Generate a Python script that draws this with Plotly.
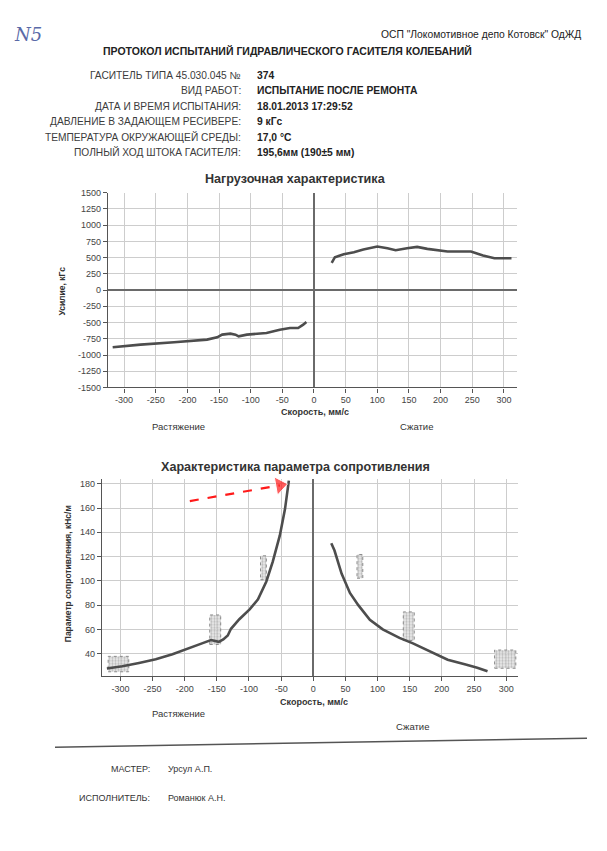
import plotly.graph_objects as go

W, H = 607, 851


def px(x):
    return x / W


def py(y):
    return 1 - y / H


# ---------------- data ----------------
# Load characteristic (force, kgf vs speed, mm/s)
load_ext_v = [-318, -274, -221, -195, -169, -153, -145, -132, -124, -119, -106, -75, -54, -38, -25, -17, -12]
load_ext_f = [-881, -840, -804, -789, -763, -727, -686, -671, -686, -712, -686, -660, -610, -584, -584, -533, -492]
load_cmp_v = [28, 33, 47, 63, 78, 100, 116, 129, 147, 163, 179, 211, 248, 267, 285, 312]
load_cmp_f = [420, 507, 553, 584, 625, 671, 645, 615, 645, 666, 635, 594, 594, 533, 492, 492]

# Resistance parameter (kN*s/m vs speed, mm/s)
res_ext_v = [-321, -297, -271, -245, -219, -193, -172, -159, -152, -147, -140, -133, -128, -115, -99, -86, -73, -63, -52, -44, -38]
res_ext_k = [27.8, 29.7, 32.4, 35.4, 39.5, 44.9, 48.7, 51.2, 50.5, 49.8, 51.8, 55.0, 60.5, 68.4, 76.5, 84.7, 99.5, 115.8, 137.4, 159.1, 182.5]
res_cmp_v = [28, 33, 44, 57, 70, 88, 108, 134, 155, 186, 209, 237, 255, 271]
res_cmp_k = [131, 125, 106, 90, 80, 68, 60, 53, 48.5, 41, 35, 31, 28.5, 25.5]

# Tolerance boxes (speed range, parameter range)
box_v0 = [-319, -161, -82, 68, 140, 282]
box_v1 = [-287, -144, -73, 77, 157, 315]
box_k0 = [25.1, 47.6, 100.9, 102.2, 50.8, 28.0]
box_k1 = [37.8, 71.9, 120.6, 121.7, 74.4, 43.0]

# Red marker arrow (speed, parameter)
arrow_v = [-192, -52]
arrow_k = [165.7, 178.7]

x_ticks = [-300, -250, -200, -150, -100, -50, 0, 50, 100, 150, 200, 250, 300]
load_ticks = [-1500, -1250, -1000, -750, -500, -250, 0, 250, 500, 750, 1000, 1250, 1500]
res_ticks = [40, 60, 80, 100, 120, 140, 160, 180]

header_labels = [
    "ГАСИТЕЛЬ ТИПА 45.030.045 №",
    "ВИД РАБОТ:",
    "ДАТА И ВРЕМЯ ИСПЫТАНИЯ:",
    "ДАВЛЕНИЕ В ЗАДАЮЩЕМ РЕСИВЕРЕ:",
    "ТЕМПЕРАТУРА ОКРУЖАЮЩЕЙ СРЕДЫ:",
    "ПОЛНЫЙ ХОД ШТОКА ГАСИТЕЛЯ:",
]
header_values = [
    "374",
    "ИСПЫТАНИЕ ПОСЛЕ РЕМОНТА",
    "18.01.2013 17:29:52",
    "9 кГс",
    "17,0 °C",
    "195,6мм (190±5 мм)",
]

# ---------------- figure ----------------
LINE = "#4d4d4d"
GRID = "#cdcdcd"
FONT = "Liberation Sans"

fig = go.Figure()

fig.add_trace(go.Scatter(x=load_ext_v, y=load_ext_f, mode="lines",
                         line=dict(color=LINE, width=2.6), xaxis="x", yaxis="y"))
fig.add_trace(go.Scatter(x=load_cmp_v, y=load_cmp_f, mode="lines",
                         line=dict(color=LINE, width=2.6), xaxis="x", yaxis="y"))

# tolerance boxes
bx, by = [], []
for a, b, c, d in zip(box_v0, box_v1, box_k0, box_k1):
    bx += [a, b, b, a, a, None]
    by += [c, c, d, d, c, None]
fig.add_trace(go.Scatter(x=bx, y=by, mode="lines", fill="toself",
                         fillcolor="rgba(225,225,225,0.7)",
                         fillpattern=dict(shape=".", fgcolor="#8a8a8a", bgcolor="rgba(228,228,228,0.7)",
                                          size=3, solidity=0.45),
                         line=dict(color="#8a8a8a", width=1, dash="dot"),
                         xaxis="x2", yaxis="y2"))

fig.add_trace(go.Scatter(x=res_ext_v, y=res_ext_k, mode="lines",
                         line=dict(color=LINE, width=2.6), xaxis="x2", yaxis="y2", cliponaxis=False))
fig.add_trace(go.Scatter(x=res_cmp_v, y=res_cmp_k, mode="lines",
                         line=dict(color=LINE, width=2.6), xaxis="x2", yaxis="y2"))

fig.add_trace(go.Scatter(x=arrow_v, y=arrow_k, mode="lines+markers",
                         line=dict(color="#ff1a1a", width=2.2, dash="dash"),
                         marker=dict(symbol=["circle", "triangle-up"], size=[0, 16],
                                     color="#ff1a1a", angleref="previous"),
                         xaxis="x2", yaxis="y2", cliponaxis=False))

axis_common = dict(showgrid=True, gridcolor=GRID, gridwidth=1,
                   showline=True, linecolor="#555", linewidth=1.2,
                   ticks="outside", ticklen=4, tickcolor="#555",
                   tickfont=dict(family=FONT, size=9, color="#444"),
                   zeroline=True, zerolinecolor="#6a6a6a", zerolinewidth=1.5)


def labels(vals):
    return [str(v) for v in vals]


fig.update_layout(
    width=W, height=851,
    margin=dict(l=0, r=0, t=0, b=0),
    paper_bgcolor="white", plot_bgcolor="white",
    showlegend=False,
    xaxis=dict(domain=[px(108), px(517)], range=[-325.4, 320.7], tickvals=x_ticks,
               ticktext=labels(x_ticks), anchor="y", **axis_common),
    yaxis=dict(domain=[py(387), py(190)], range=[-1500, 1500], tickvals=load_ticks,
               ticktext=labels(load_ticks), anchor="x", **axis_common),
    xaxis2=dict(domain=[px(102), px(518)], range=[-328.6, 318.4], tickvals=x_ticks,
                ticktext=labels(x_ticks), anchor="y2", **axis_common),
    yaxis2=dict(domain=[py(679), py(480)], range=[21.6, 183.6], tickvals=res_ticks,
                ticktext=labels(res_ticks), anchor="x2", **axis_common),
)

ann = []


def txt(x, y, s, size, anchor="left", bold=False, color="#222", angle=0, family=FONT, italic=False):
    t = f"<b>{s}</b>" if bold else s
    if italic:
        t = f"<i>{t}</i>"
    ann.append(dict(x=px(x), y=py(y), xref="paper", yref="paper", text=t, showarrow=False,
                    xanchor=anchor, yanchor="middle", textangle=angle,
                    font=dict(family=family, size=size, color=color)))


txt(12, 30, "N5", 18, italic=True, color="#5a6aa8", family="DejaVu Serif")
txt(583, 30, "ОСП \"Локомотивное депо Котовск\" ОдЖД", 10.3, anchor="right")
txt(287, 47, "ПРОТОКОЛ ИСПЫТАНИЙ ГИДРАВЛИЧЕСКОГО ГАСИТЕЛЯ КОЛЕБАНИЙ", 10.5, anchor="center", bold=True)
row_y = [71, 87, 103, 118, 134, 149]
for yy, lab, val in zip(row_y, header_labels, header_values):
    txt(243, yy, lab, 10.2, anchor="right", color="#3c3c3c")
    txt(255, yy, val, 10.3, anchor="left", bold=True)

txt(295, 176, "Нагрузочная характеристика", 12.6, anchor="center", bold=True, color="#333")
txt(62, 290, "Усилие, кГс", 8.5, anchor="center", bold=True, color="#333", angle=-90)
txt(315, 412, "Скорость, мм/с", 9, anchor="center", bold=True, color="#333")
txt(178, 427, "Растяжение", 9.5, anchor="center", color="#333")
txt(416, 427, "Сжатие", 9.5, anchor="center", color="#333")

txt(295, 467, "Характеристика параметра сопротивления", 12.6, anchor="center", bold=True, color="#333")
txt(68, 576, "Параметр сопротивления, кНс/м", 8.5, anchor="center", bold=True, color="#333", angle=-90)
txt(314, 705, "Скорость, мм/с", 9, anchor="center", bold=True, color="#333")
txt(178, 717, "Растяжение", 9.5, anchor="center", color="#333")
txt(412, 730, "Сжатие", 9.5, anchor="center", color="#333")

txt(152, 773, "МАСТЕР:", 9, anchor="right", color="#333")
txt(166, 773, "Урсул А.П.", 9, anchor="left", color="#333")
txt(152, 802, "ИСПОЛНИТЕЛЬ:", 9, anchor="right", color="#333")
txt(166, 802, "Романюк А.Н.", 9, anchor="left", color="#333")

fig.update_layout(annotations=ann)
fig.add_shape(type="line", xref="paper", yref="paper",
              x0=px(55), y0=py(751), x1=px(587), y1=py(742),
              line=dict(color="#555", width=1.5))

fig.write_html("out.html")
